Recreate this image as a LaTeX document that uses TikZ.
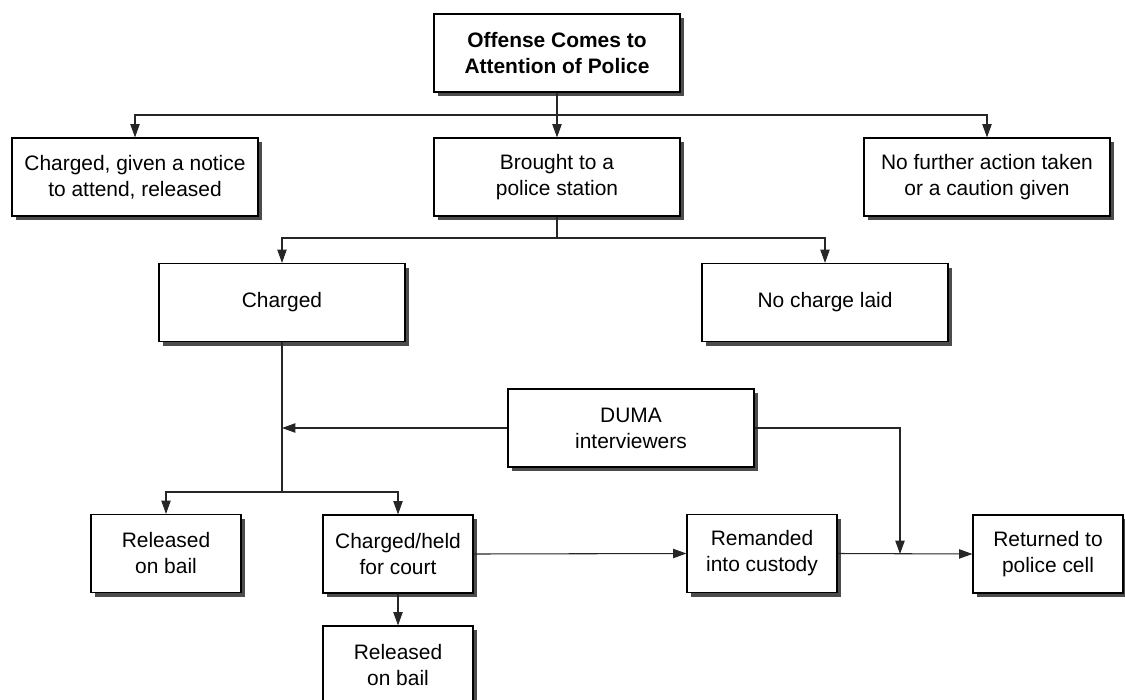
\documentclass[tikz,border=0pt]{standalone}
\usepackage{fontspec}
\setmainfont{Liberation Sans}
\usetikzlibrary{arrows.meta,shadows,calc}
\begin{document}
\begin{tikzpicture}[x=0.75pt,y=-0.75pt,
  box/.style={draw=black,line width=0.85pt,fill=white,align=center,inner sep=0pt,
    font=\fontsize{15.7}{19.5}\selectfont,
    drop shadow={shadow xshift=3pt,shadow yshift=-3pt,fill=black!70,opacity=1}},
  bigbox/.style={box,minimum width=184.5pt,minimum height=58.5pt},
  smallbox/.style={box,minimum width=112.5pt,minimum height=58.5pt},
  conn/.style={draw=black!85,line width=0.8pt},
  arr/.style={conn,-{Triangle[length=10pt,width=7pt]}}]
\useasboundingbox (0,0) rectangle (1125,700);
\fill[white] (0,0) rectangle (1125,700);
% nodes
\node[bigbox,font=\fontsize{15.7}{19.5}\selectfont\bfseries] (top) at (557,53) {Offense Comes to\\Attention of Police};
\node[bigbox] (left1) at (135,177) {Charged, given a notice\\to attend, released};
\node[bigbox] (mid) at (557,177) {Brought to a\\police station};
\node[bigbox] (right1) at (987,177) {No further action taken\\or a caution given};
\node[bigbox] (charged) at (282,302.5) {Charged};
\node[bigbox] (nocharge) at (825,302.5) {No charge laid};
\node[bigbox] (duma) at (631,428) {DUMA\\interviewers};
\node[smallbox] (rel1) at (166,553.5) {Released\\on bail};
\node[smallbox] (held) at (398,554) {Charged/held\\for court};
\node[smallbox] (remand) at (762,553.5) {Remanded\\into custody};
\node[smallbox] (returned) at (1048,554) {Returned to\\police cell};
\node[smallbox] (rel2) at (398,665) {Released\\on bail};
% coordinates
\coordinate (j1) at (557,115);
\coordinate (j2) at (557,238);
\coordinate (j3) at (282,492);
\coordinate (jd) at (900,554);
% connectors
\draw[arr] (top.south) -- (mid.north);
\draw[arr] (j1) -| (left1.north);
\draw[arr] (j1) -| (right1.north);
\draw[conn] (mid.south) -- (j2);
\draw[arr] (j2) -| (charged.north);
\draw[arr] (j2) -| (nocharge.north);
\draw[conn] (charged.south) -- (j3);
\draw[arr] (duma.west) -- (duma.west -| charged.south);
\draw[arr] (j3) -| (rel1.north);
\draw[arr] (j3) -| (held.north);
\draw[arr] (held.south) -- (rel2.north);
\draw[arr] (held.east) -- (remand.west);
\draw[arr] (remand.east) -- (returned.west);
\draw[arr] (duma.east) -| (jd);
\end{tikzpicture}
\end{document}
